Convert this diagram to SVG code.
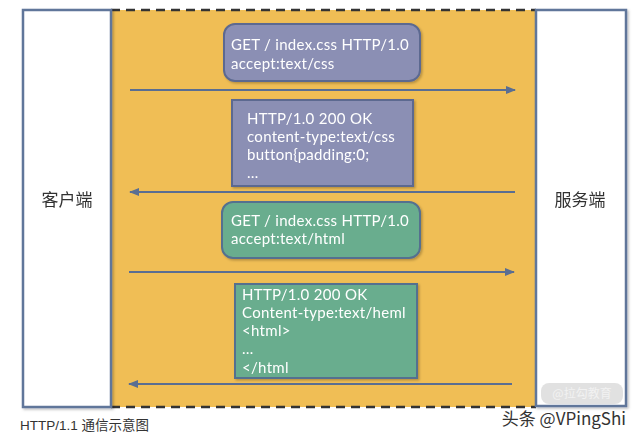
<svg xmlns="http://www.w3.org/2000/svg" width="640" height="442" viewBox="0 0 640 442">
<defs>
<style>
.t{font-family:Lato,"Open Sans","Noto Sans CJK SC",sans-serif;font-size:15px;letter-spacing:0.3px;fill:#ffffff}
.side{fill:#ffffff;stroke:#61769a;stroke-width:2.5}
.lbl{font-family:"Noto Sans CJK SC","Noto Sans",sans-serif;font-size:17px;fill:#333333;text-anchor:middle}
.conn{stroke:#5a6e92;stroke-width:2;fill:none}
.pur{fill:#8b8fb4;stroke:#5c6990;stroke-width:2}
.grn{fill:#69ad8e;stroke:#55708f;stroke-width:2}
</style>
<marker id="ah" viewBox="0 0 10 10" refX="9" refY="5" markerWidth="5" markerHeight="5" orient="auto">
<path d="M0,1 L10,5 L0,9 z" fill="#5a6e92"/>
</marker>
<filter id="sh" x="-10%" y="-10%" width="130%" height="130%">
<feDropShadow dx="1.5" dy="1.5" stdDeviation="1.2" flood-color="#000" flood-opacity="0.25"/>
</filter>
</defs>
<rect width="640" height="442" fill="#ffffff"/>
<g id="channel">
<rect x="111" y="10" width="425" height="397" fill="#f0be55"/>
<line x1="111" y1="10" x2="536" y2="10" stroke="#333" stroke-width="2.5" stroke-dasharray="9,6"/>
<line x1="111" y1="407" x2="536" y2="407" stroke="#333" stroke-width="2.5" stroke-dasharray="9,6"/>
</g>
<g id="client" filter="url(#sh)">
<rect class="side" x="23" y="10" width="88" height="397"/>
<text class="lbl" x="67" y="206">客户端</text>
</g>
<g id="server" filter="url(#sh)">
<rect class="side" x="536" y="10" width="90" height="396"/>
<text class="lbl" x="580" y="206">服务端</text>
</g>
<g id="req1" filter="url(#sh)">
<rect class="pur" x="224" y="24" width="196" height="57" rx="11"/>
<text class="t" x="231" y="50">GET / index.css HTTP/1.0</text>
<text class="t" x="231" y="69">accept:text/css</text>
</g>
<g id="res1" filter="url(#sh)">
<rect class="pur" x="232" y="100" width="181" height="86"/>
<text class="t" x="247" y="124">HTTP/1.0 200 OK</text>
<text class="t" x="247" y="142">content-type:text/css</text>
<text class="t" x="247" y="160">button{padding:0;</text>
<text class="t" x="247" y="178">…</text>
</g>
<g id="req2" filter="url(#sh)">
<rect class="grn" x="222" y="202" width="198" height="56" rx="11"/>
<text class="t" x="231" y="226">GET / index.css HTTP/1.0</text>
<text class="t" x="231" y="244">accept:text/html</text>
</g>
<g id="res2" filter="url(#sh)">
<rect class="grn" x="235" y="284" width="182" height="94"/>
<text class="t" x="242" y="300">HTTP/1.0 200 OK</text>
<text class="t" x="242" y="318">Content-type:text/heml</text>
<text class="t" x="242" y="336">&lt;html&gt;</text>
<text class="t" x="242" y="354">…</text>
<text class="t" x="242" y="373">&lt;/html</text>
</g>
<g id="connectors">
<line class="conn" x1="130" y1="90" x2="515" y2="90" marker-end="url(#ah)"/>
<line class="conn" x1="515" y1="192" x2="130" y2="192" marker-end="url(#ah)"/>
<line class="conn" x1="129" y1="272" x2="514" y2="272" marker-end="url(#ah)"/>
<line class="conn" x1="512" y1="384" x2="129" y2="384" marker-end="url(#ah)"/>
</g>
<g id="watermark">
<rect x="541" y="383" width="82" height="21" rx="8" fill="#d9d9d9" opacity="0.8"/>
<text x="582" y="398" font-family="'Noto Sans CJK SC',sans-serif" font-size="12" fill="#f2f2f2" text-anchor="middle">@拉勾教育</text>
<text x="626" y="425" font-family="'Noto Sans CJK SC','Noto Sans',sans-serif" font-size="17" fill="#333" text-anchor="end">头条 @VPingShi</text>
</g>
<text x="20" y="430" font-family="'Liberation Sans','Noto Sans CJK SC',sans-serif" font-size="13.5" fill="#333">HTTP/1.1 通信示意图</text>
</svg>
